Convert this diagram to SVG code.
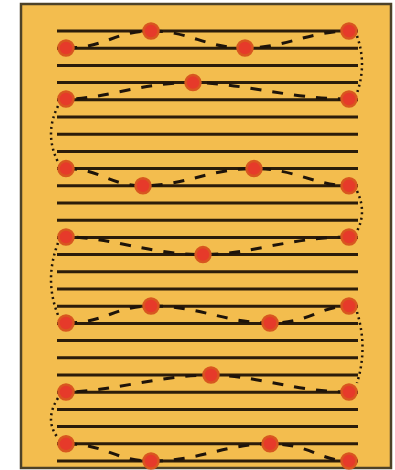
<svg xmlns="http://www.w3.org/2000/svg" width="395" height="470" viewBox="0 0 395 470">
<defs>
<style>
.rail{stroke:#2b1c0a;stroke-width:3;}
.wave{fill:none;stroke:#1e140a;stroke-width:3;stroke-dasharray:11 11;stroke-linecap:butt;}
.hop{fill:none;stroke:#1e140a;stroke-width:2.5;stroke-dasharray:2 3.5;}
.dot{fill:#e63a2a;stroke:#d8561f;stroke-width:2.5;}
</style>
</defs>
<rect x="0" y="0" width="395" height="470" fill="#ffffff"/>
<rect x="21" y="4" width="370" height="464" fill="#f3bd4e" stroke="#4d4228" stroke-width="2.5"/>
<g id="rails">
<line class="rail" x1="57" y1="31" x2="358" y2="31"/>
<line class="rail" x1="57" y1="48.2" x2="358" y2="48.2"/>
<line class="rail" x1="57" y1="65.4" x2="358" y2="65.4"/>
<line class="rail" x1="57" y1="82.6" x2="358" y2="82.6"/>
<line class="rail" x1="57" y1="99.8" x2="358" y2="99.8"/>
<line class="rail" x1="57" y1="117" x2="358" y2="117"/>
<line class="rail" x1="57" y1="134.2" x2="358" y2="134.2"/>
<line class="rail" x1="57" y1="151.4" x2="358" y2="151.4"/>
<line class="rail" x1="57" y1="168.6" x2="358" y2="168.6"/>
<line class="rail" x1="57" y1="185.8" x2="358" y2="185.8"/>
<line class="rail" x1="57" y1="203" x2="358" y2="203"/>
<line class="rail" x1="57" y1="220.2" x2="358" y2="220.2"/>
<line class="rail" x1="57" y1="237.4" x2="358" y2="237.4"/>
<line class="rail" x1="57" y1="254.6" x2="358" y2="254.6"/>
<line class="rail" x1="57" y1="271.8" x2="358" y2="271.8"/>
<line class="rail" x1="57" y1="289" x2="358" y2="289"/>
<line class="rail" x1="57" y1="306.2" x2="358" y2="306.2"/>
<line class="rail" x1="57" y1="323.4" x2="358" y2="323.4"/>
<line class="rail" x1="57" y1="340.6" x2="358" y2="340.6"/>
<line class="rail" x1="57" y1="357.8" x2="358" y2="357.8"/>
<line class="rail" x1="57" y1="375" x2="358" y2="375"/>
<line class="rail" x1="57" y1="392.2" x2="358" y2="392.2"/>
<line class="rail" x1="57" y1="409.4" x2="358" y2="409.4"/>
<line class="rail" x1="57" y1="426.6" x2="358" y2="426.6"/>
<line class="rail" x1="57" y1="443.8" x2="358" y2="443.8"/>
<line class="rail" x1="57" y1="461" x2="358" y2="461"/>
</g>
<g id="connectors">
<path class="wave" d="M66,48 C105,48 115,31 151,31 C190,31 205,48 245,48 C285,48 310,31 349,31"/>
<path class="wave" d="M349,99 C290,99 240,82.6 193,82.6 C140,82.6 105,99 66,99"/>
<path class="wave" d="M66,168.6 C100,168.6 110,185.8 143,185.8 C185,185.8 210,168.6 254,168.6 C295,168.6 315,185.8 349,185.8"/>
<path class="wave" d="M349,237 C290,237 250,254.6 203,254.6 C150,254.6 110,237 66,237"/>
<path class="wave" d="M66,323 C105,323 115,306 151,306 C200,306 225,323 270,323 C310,323 320,306 349,306"/>
<path class="wave" d="M349,392 C295,392 255,375 211,375 C160,375 110,392 66,392"/>
<path class="wave" d="M66,443.8 C105,443.8 115,461 151,461 C200,461 225,443.8 270,443.8 C310,443.8 320,461 349,461"/>
<path class="hop" d="M357,36 Q367,64 357,93"/>
<path class="hop" d="M58,106 Q44,134 58,162"/>
<path class="hop" d="M357,191 Q367,212 357,231"/>
<path class="hop" d="M58,243 Q44,280 58,315"/>
<path class="hop" d="M357,312 Q368,348 357,383"/>
<path class="hop" d="M58,398 Q44,420 58,438"/>
</g>
<g id="n1"><circle class="dot" cx="66" cy="48" r="7.5"/></g>
<g id="n2"><circle class="dot" cx="151" cy="31" r="7.5"/></g>
<g id="n3"><circle class="dot" cx="245" cy="48" r="7.5"/></g>
<g id="n4"><circle class="dot" cx="349" cy="31" r="7.5"/></g>
<g id="n5"><circle class="dot" cx="349" cy="99" r="7.5"/></g>
<g id="n6"><circle class="dot" cx="193" cy="82.6" r="7.5"/></g>
<g id="n7"><circle class="dot" cx="66" cy="99" r="7.5"/></g>
<g id="n8"><circle class="dot" cx="66" cy="168.6" r="7.5"/></g>
<g id="n9"><circle class="dot" cx="143" cy="185.8" r="7.5"/></g>
<g id="n10"><circle class="dot" cx="254" cy="168.6" r="7.5"/></g>
<g id="n11"><circle class="dot" cx="349" cy="185.8" r="7.5"/></g>
<g id="n12"><circle class="dot" cx="349" cy="237" r="7.5"/></g>
<g id="n13"><circle class="dot" cx="203" cy="254.6" r="7.5"/></g>
<g id="n14"><circle class="dot" cx="66" cy="237" r="7.5"/></g>
<g id="n15"><circle class="dot" cx="66" cy="323" r="7.5"/></g>
<g id="n16"><circle class="dot" cx="151" cy="306" r="7.5"/></g>
<g id="n17"><circle class="dot" cx="270" cy="323" r="7.5"/></g>
<g id="n18"><circle class="dot" cx="349" cy="306" r="7.5"/></g>
<g id="n19"><circle class="dot" cx="349" cy="392" r="7.5"/></g>
<g id="n20"><circle class="dot" cx="211" cy="375" r="7.5"/></g>
<g id="n21"><circle class="dot" cx="66" cy="392" r="7.5"/></g>
<g id="n22"><circle class="dot" cx="66" cy="443.8" r="7.5"/></g>
<g id="n23"><circle class="dot" cx="151" cy="461" r="7.5"/></g>
<g id="n24"><circle class="dot" cx="270" cy="443.8" r="7.5"/></g>
<g id="n25"><circle class="dot" cx="349" cy="461" r="7.5"/></g>
</svg>
